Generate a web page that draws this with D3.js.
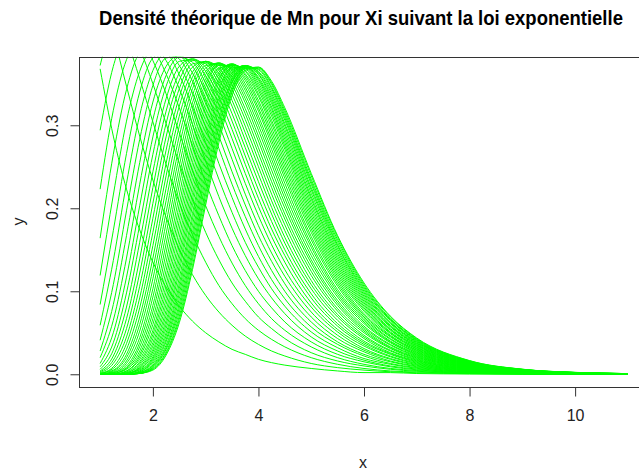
<!DOCTYPE html>
<html>
<head>
<meta charset="utf-8">
<title>Densite de Mn</title>
<script src="https://d3js.org/d3.v7.min.js"></script>
<style>
 body { margin: 0; background: #fff; }
 .title { font: bold 18.5px "Liberation Sans", Arial, sans-serif; fill: #000; }
 .tick text { font: 16px "Liberation Sans", Arial, sans-serif; fill: #222; }
 .lab { font: 16px "Liberation Sans", Arial, sans-serif; fill: #222; }
 .curve { fill: none; stroke: #00ff00; stroke-width: 1; }
</style>
</head>
<body>
<div id="chart"></div>
<script>
// n = 1..50 : density of Mn = max(X1..Xn), Xi ~ Exp(1), read at each x of xGrid
var nValues = [1,2,3,4,5,6,7,8,9,10,11,12,13,14,15,16,17,18,19,20,21,22,23,24,25,
  26,27,28,29,30,31,32,33,34,35,36,37,38,39,40,41,42,43,44,45,46,47,48,49,50];

var xGrid = [1,1.25,1.5,1.75,2,2.25,2.5,2.75,3,3.25,3.5,3.75,4,4.25,4.5,5,5.5,6,6.5,7,8,9,10,11];

// one list per x of xGrid, values for n = 1..50
var densCols = [
 /* 1 */ [0.368,0.465,0.441,0.372,0.294,0.223,0.164,0.119,0.084,0.059,0.041,0.028,0.020,0.013,0.009,0.006,0.004,0.003,0.002,0.001,0.001,0.001,0,0,0,0,0,0,0,0,0,0,0,0,0,0,0,0,0,0,0,0,0,0,0,0,0,0,0,0],
 /* 1.25 */ [0.287,0.409,0.438,0.416,0.371,0.318,0.265,0.216,0.173,0.137,0.108,0.084,0.065,0.050,0.038,0.029,0.022,0.017,0.013,0.009,0.007,0.005,0.004,0.003,0.002,0.002,0.001,0.001,0.001,0,0,0,0,0,0,0,0,0,0,0,0,0,0,0,0,0,0,0,0,0],
 /* 1.5 */ [0.223,0.347,0.404,0.418,0.406,0.379,0.343,0.305,0.266,0.230,0.197,0.167,0.140,0.117,0.098,0.081,0.067,0.055,0.045,0.037,0.030,0.024,0.020,0.016,0.013,0.010,0.008,0.007,0.006,0.004,0.004,0.003,0.002,0.002,0.001,0.001,0.001,0.001,0.001,0,0,0,0,0,0,0,0,0,0,0],
 /* 1.75 */ [0.174,0.287,0.356,0.392,0.405,0.401,0.387,0.365,0.340,0.312,0.283,0.255,0.229,0.203,0.180,0.159,0.139,0.122,0.106,0.092,0.080,0.069,0.060,0.052,0.044,0.038,0.033,0.028,0.024,0.021,0.018,0.015,0.013,0.011,0.009,0.008,0.007,0.006,0.005,0.004,0.003,0.003,0.002,0.002,0.002,0.001,0.001,0.001,0.001,0.001],
 /* 2 */ [0.135,0.234,0.304,0.350,0.378,0.392,0.396,0.391,0.381,0.366,0.348,0.328,0.307,0.286,0.265,0.244,0.225,0.206,0.188,0.171,0.155,0.140,0.127,0.115,0.103,0.093,0.083,0.075,0.067,0.060,0.053,0.048,0.043,0.038,0.034,0.030,0.027,0.024,0.021,0.019,0.017,0.015,0.013,0.011,0.010,0.009,0.008,0.007,0.006,0.005],
 /* 2.25 */ [0.105,0.189,0.253,0.302,0.338,0.362,0.378,0.387,0.389,0.387,0.381,0.371,0.360,0.347,0.332,0.317,0.302,0.286,0.270,0.254,0.239,0.224,0.209,0.195,0.182,0.169,0.157,0.146,0.135,0.125,0.116,0.107,0.099,0.091,0.084,0.077,0.071,0.065,0.060,0.055,0.050,0.046,0.042,0.039,0.035,0.032,0.030,0.027,0.025,0.023],
 /* 2.5 */ [0.082,0.151,0.207,0.254,0.291,0.321,0.344,0.361,0.372,0.380,0.383,0.384,0.382,0.377,0.371,0.363,0.354,0.344,0.334,0.323,0.311,0.299,0.287,0.275,0.263,0.251,0.239,0.228,0.216,0.205,0.195,0.185,0.175,0.165,0.156,0.147,0.139,0.131,0.124,0.116,0.109,0.103,0.097,0.091,0.085,0.080,0.075,0.070,0.066,0.062],
 /* 2.75 */ [0.064,0.120,0.168,0.210,0.245,0.276,0.301,0.322,0.339,0.353,0.363,0.371,0.376,0.379,0.380,0.380,0.378,0.374,0.370,0.364,0.358,0.351,0.344,0.336,0.327,0.319,0.310,0.301,0.292,0.282,0.273,0.264,0.255,0.246,0.237,0.228,0.219,0.211,0.203,0.194,0.187,0.179,0.171,0.164,0.157,0.150,0.144,0.138,0.131,0.126],
 /* 3 */ [0.050,0.095,0.135,0.171,0.203,0.231,0.257,0.279,0.298,0.314,0.329,0.341,0.351,0.359,0.365,0.370,0.374,0.376,0.377,0.377,0.377,0.375,0.372,0.369,0.365,0.361,0.356,0.351,0.346,0.340,0.334,0.327,0.321,0.314,0.307,0.300,0.293,0.286,0.279,0.272,0.265,0.258,0.251,0.244,0.237,0.230,0.223,0.217,0.210,0.204],
 /* 3.25 */ [0.039,0.075,0.107,0.138,0.166,0.191,0.214,0.235,0.254,0.272,0.287,0.301,0.314,0.325,0.334,0.343,0.350,0.356,0.362,0.366,0.369,0.372,0.374,0.375,0.375,0.375,0.374,0.373,0.372,0.369,0.367,0.364,0.361,0.357,0.354,0.350,0.345,0.341,0.336,0.332,0.327,0.322,0.317,0.311,0.306,0.301,0.296,0.290,0.285,0.279],
 /* 3.5 */ [0.030,0.059,0.085,0.110,0.134,0.155,0.176,0.195,0.213,0.229,0.244,0.259,0.272,0.284,0.295,0.305,0.314,0.323,0.330,0.337,0.343,0.349,0.354,0.358,0.362,0.365,0.367,0.369,0.371,0.372,0.373,0.374,0.374,0.373,0.373,0.372,0.370,0.369,0.367,0.365,0.363,0.361,0.358,0.355,0.353,0.350,0.346,0.343,0.340,0.336],
 /* 3.75 */ [0.024,0.046,0.067,0.088,0.107,0.125,0.143,0.159,0.175,0.190,0.204,0.217,0.230,0.242,0.253,0.263,0.273,0.282,0.291,0.299,0.307,0.314,0.320,0.327,0.332,0.337,0.342,0.346,0.350,0.354,0.357,0.360,0.362,0.365,0.366,0.368,0.369,0.370,0.371,0.372,0.372,0.372,0.372,0.372,0.371,0.371,0.370,0.369,0.368,0.366],
 /* 4 */ [0.018,0.036,0.053,0.069,0.085,0.100,0.115,0.129,0.142,0.155,0.167,0.179,0.191,0.202,0.212,0.222,0.232,0.241,0.250,0.258,0.266,0.273,0.281,0.287,0.294,0.300,0.306,0.311,0.317,0.321,0.326,0.330,0.335,0.338,0.342,0.345,0.348,0.351,0.354,0.356,0.358,0.361,0.362,0.364,0.365,0.367,0.368,0.369,0.370,0.370],
 /* 4.25 */ [0.014,0.028,0.042,0.055,0.067,0.080,0.092,0.103,0.114,0.125,0.136,0.146,0.156,0.166,0.175,0.184,0.193,0.201,0.209,0.217,0.225,0.232,0.239,0.246,0.253,0.259,0.265,0.271,0.277,0.282,0.287,0.292,0.297,0.302,0.306,0.311,0.315,0.319,0.322,0.326,0.329,0.332,0.335,0.338,0.341,0.344,0.346,0.349,0.351,0.353],
 /* 4.5 */ [0.011,0.022,0.033,0.043,0.053,0.063,0.073,0.082,0.091,0.100,0.109,0.118,0.126,0.135,0.143,0.150,0.158,0.165,0.173,0.180,0.187,0.193,0.200,0.206,0.212,0.218,0.224,0.230,0.236,0.241,0.246,0.251,0.256,0.261,0.266,0.271,0.275,0.279,0.283,0.287,0.291,0.295,0.299,0.302,0.306,0.309,0.312,0.315,0.318,0.321],
 /* 5 */ [0.007,0.013,0.020,0.026,0.033,0.039,0.045,0.051,0.057,0.063,0.069,0.075,0.081,0.086,0.092,0.097,0.103,0.108,0.113,0.119,0.124,0.129,0.134,0.138,0.143,0.148,0.153,0.157,0.162,0.166,0.171,0.175,0.179,0.183,0.187,0.191,0.195,0.199,0.203,0.207,0.211,0.214,0.218,0.222,0.225,0.229,0.232,0.235,0.239,0.242],
 /* 5.5 */ [0.004,0.008,0.012,0.016,0.020,0.024,0.028,0.032,0.036,0.039,0.043,0.047,0.051,0.054,0.058,0.061,0.065,0.069,0.072,0.076,0.079,0.083,0.086,0.089,0.093,0.096,0.099,0.102,0.106,0.109,0.112,0.115,0.118,0.121,0.124,0.127,0.130,0.133,0.136,0.139,0.142,0.145,0.148,0.151,0.154,0.156,0.159,0.162,0.165,0.167],
 /* 6 */ [0.002,0.005,0.007,0.010,0.012,0.015,0.017,0.019,0.022,0.024,0.027,0.029,0.031,0.034,0.036,0.038,0.040,0.043,0.045,0.047,0.050,0.052,0.054,0.056,0.058,0.061,0.063,0.065,0.067,0.069,0.071,0.073,0.076,0.078,0.080,0.082,0.084,0.086,0.088,0.090,0.092,0.094,0.096,0.098,0.100,0.102,0.104,0.106,0.108,0.110],
 /* 6.5 */ [0.002,0.003,0.004,0.006,0.007,0.009,0.010,0.012,0.013,0.015,0.016,0.018,0.019,0.021,0.022,0.024,0.025,0.026,0.028,0.029,0.031,0.032,0.033,0.035,0.036,0.038,0.039,0.040,0.042,0.043,0.045,0.046,0.047,0.049,0.050,0.051,0.053,0.054,0.055,0.057,0.058,0.059,0.061,0.062,0.063,0.065,0.066,0.067,0.069,0.070],
 /* 7 */ [0.0009,0.0018,0.0027,0.0036,0.0045,0.0054,0.0063,0.0072,0.0081,0.0090,0.0099,0.0108,0.0117,0.0126,0.0135,0.0144,0.0153,0.0162,0.0170,0.0179,0.0188,0.0197,0.0206,0.0214,0.0223,0.0232,0.0240,0.0249,0.0258,0.0266,0.0275,0.0284,0.0292,0.0301,0.0309,0.0318,0.0326,0.0335,0.0344,0.0352,0.0360,0.0369,0.0377,0.0386,0.0394,0.0403,0.0411,0.0419,0.0428,0.0436],
 /* 8 */ [0.0003,0.0007,0.0010,0.0013,0.0017,0.0020,0.0023,0.0027,0.0030,0.0033,0.0037,0.0040,0.0043,0.0047,0.0050,0.0053,0.0057,0.0060,0.0063,0.0067,0.0070,0.0073,0.0077,0.0080,0.0083,0.0086,0.0090,0.0093,0.0096,0.0100,0.0103,0.0106,0.0110,0.0113,0.0116,0.0119,0.0123,0.0126,0.0129,0.0132,0.0136,0.0139,0.0142,0.0145,0.0149,0.0152,0.0155,0.0158,0.0162,0.0165],
 /* 9 */ [0.0001,0.0002,0.0004,0.0005,0.0006,0.0007,0.0009,0.0010,0.0011,0.0012,0.0014,0.0015,0.0016,0.0017,0.0018,0.0020,0.0021,0.0022,0.0023,0.0025,0.0026,0.0027,0.0028,0.0030,0.0031,0.0032,0.0033,0.0034,0.0036,0.0037,0.0038,0.0039,0.0041,0.0042,0.0043,0.0044,0.0045,0.0047,0.0048,0.0049,0.0050,0.0052,0.0053,0.0054,0.0055,0.0056,0.0058,0.0059,0.0060,0.0061],
 /* 10 */ [0.0000,0.0001,0.0001,0.0002,0.0002,0.0003,0.0003,0.0004,0.0004,0.0005,0.0005,0.0005,0.0006,0.0006,0.0007,0.0007,0.0008,0.0008,0.0009,0.0009,0.0010,0.0010,0.0010,0.0011,0.0011,0.0012,0.0012,0.0013,0.0013,0.0014,0.0014,0.0015,0.0015,0.0015,0.0016,0.0016,0.0017,0.0017,0.0018,0.0018,0.0019,0.0019,0.0019,0.0020,0.0020,0.0021,0.0021,0.0022,0.0022,0.0023],
 /* 11 */ [0,0,0.0001,0.0001,0.0001,0.0001,0.0001,0.0001,0.0002,0.0002,0.0002,0.0002,0.0002,0.0002,0.0003,0.0003,0.0003,0.0003,0.0003,0.0003,0.0004,0.0004,0.0004,0.0004,0.0004,0.0004,0.0005,0.0005,0.0005,0.0005,0.0005,0.0005,0.0006,0.0006,0.0006,0.0006,0.0006,0.0006,0.0007,0.0007,0.0007,0.0007,0.0007,0.0007,0.0008,0.0008,0.0008,0.0008,0.0008,0.0008]
];

var xTicks = [2, 4, 6, 8, 10];
var yTicks = [0, 0.1, 0.2, 0.3];

var W = 639, H = 476;
var plot = {left: 79, right: 649, top: 56.7, bottom: 386.5};

var xScale = d3.scaleLinear().domain([0.6, 11.4]).range([plot.left, plot.right]);
var yScale = d3.scaleLinear().domain([-0.01474, 0.38262]).range([plot.bottom, plot.top]);

var svg = d3.select("#chart").append("svg")
  .attr("width", W)
  .attr("height", H);

svg.append("defs").append("clipPath").attr("id", "plotclip")
  .append("rect")
  .attr("x", plot.left).attr("y", plot.top)
  .attr("width", plot.right - plot.left)
  .attr("height", plot.bottom - plot.top);

// one series per n
var series = nValues.map(function(n, j) {
  return xGrid.map(function(x, i) { return {x: x, y: densCols[i][j]}; });
});

var line = d3.line()
  .x(function(d) { return xScale(d.x); })
  .y(function(d) { return yScale(d.y); })
  .curve(d3.curveMonotoneX);

svg.append("g")
  .attr("clip-path", "url(#plotclip)")
  .selectAll("path")
  .data(series)
  .enter().append("path")
  .attr("class", "curve")
  .attr("d", line);

// frame
svg.append("rect")
  .attr("x", plot.left + 0.5)
  .attr("y", Math.round(plot.top) + 0.5)
  .attr("width", plot.right - plot.left)
  .attr("height", Math.round(plot.bottom) - Math.round(plot.top))
  .attr("fill", "none")
  .attr("stroke", "#333")
  .attr("stroke-width", 1);

var xAxis = svg.append("g")
  .attr("transform", "translate(0," + (Math.round(plot.bottom) + 0.5) + ")")
  .call(d3.axisBottom(xScale).tickValues(xTicks).tickSize(9).tickPadding(13).tickFormat(d3.format("d")));
xAxis.select(".domain").remove();
xAxis.selectAll(".tick line").attr("stroke", "#333");

var yAxis = svg.append("g")
  .attr("transform", "translate(" + (plot.left + 0.5) + ",0)")
  .call(d3.axisLeft(yScale).tickValues(yTicks).tickSize(9).tickFormat(d3.format(".1f")));
yAxis.select(".domain").remove();
yAxis.selectAll(".tick line").attr("stroke", "#333");
yAxis.selectAll(".tick text")
  .attr("x", null).attr("dy", null)
  .attr("text-anchor", "middle")
  .attr("transform", "translate(-22,0) rotate(-90)");

// title, a bit taller than wide like the original
svg.append("text")
  .attr("class", "title")
  .attr("text-anchor", "middle")
  .attr("transform", "translate(361,25) scale(1,1.12)")
  .text("Densité théorique de Mn pour Xi suivant la loi exponentielle");

svg.append("text")
  .attr("class", "lab")
  .attr("x", (plot.left + plot.right) / 2 - 1)
  .attr("y", 468)
  .attr("text-anchor", "middle")
  .text("x");

svg.append("text")
  .attr("class", "lab")
  .attr("text-anchor", "middle")
  .attr("transform", "translate(24," + ((plot.top + plot.bottom) / 2) + ") rotate(-90)")
  .text("y");
</script>
</body>
</html>
